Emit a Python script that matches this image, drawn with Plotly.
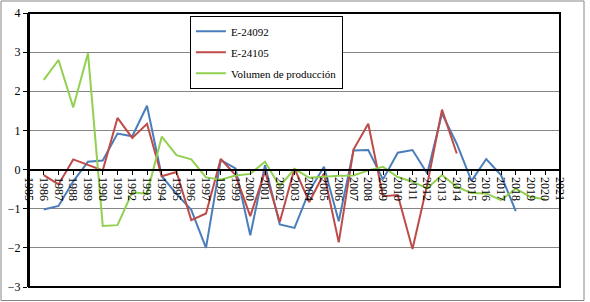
import plotly.graph_objects as go

# Category axis (years) and tick labels
tick_years = [1985, 1986, 1987, 1988, 1989, 1990, 1991, 1992, 1993, 1994, 1995, 1996,
              1997, 1998, 1999, 2000, 2001, 2002, 2003, 2004, 2005, 2006, 2007, 2008,
              2009, 2010, 2011, 2012, 2013, 2014, 2015, 2016, 2017, 2018, 2019, 2020, 2021]
tick_labels = [str(y) for y in tick_years]

years_blue = [1986, 1987, 1988, 1989, 1990, 1991, 1992, 1993, 1994, 1995, 1996, 1997,
              1998, 1999, 2000, 2001, 2002, 2003, 2004, 2005, 2006, 2007, 2008, 2009,
              2010, 2011, 2012, 2013, 2014, 2015, 2016, 2017, 2018]
e24092 = [-1.02, -0.93, -0.30, 0.20, 0.23, 0.92, 0.85, 1.63, -0.17, -0.62, -1.03, -2.00,
          0.24, 0.03, -1.68, 0.11, -1.40, -1.49, -0.55, 0.07, -1.32, 0.49, 0.50, -0.25,
          0.43, 0.50, -0.10, 1.43, 0.66, -0.29, 0.27, -0.14, -1.06]

years_red = [1986, 1987, 1988, 1989, 1990, 1991, 1992, 1993, 1994, 1995, 1996, 1997,
             1998, 1999, 2000, 2001, 2002, 2003, 2004, 2005, 2006, 2007, 2008, 2009,
             2010, 2011, 2012, 2013, 2014]
e24105 = [-0.14, -0.38, 0.26, 0.13, -0.02, 1.32, 0.81, 1.17, -0.17, -0.06, -1.29, -1.12,
          0.27, -0.14, -1.19, -0.05, -1.34, 0.03, -0.83, -0.10, -1.86, 0.51, 1.17, -0.68,
          -0.65, -2.03, -0.38, 1.53, 0.41]

years_green = [1986, 1987, 1988, 1989, 1990, 1991, 1992, 1993, 1994, 1995, 1996, 1997,
               1998, 1999, 2000, 2001, 2002, 2003, 2004, 2005, 2006, 2007, 2008, 2009,
               2010, 2011, 2012, 2013, 2014, 2015, 2016, 2017, 2018, 2019, 2020]
volumen = [2.29, 2.80, 1.59, 2.97, -1.44, -1.42, -0.58, -0.62, 0.84, 0.37, 0.26, -0.20,
           -0.26, -0.15, -0.11, 0.20, -0.43, 0.02, -0.21, -0.18, -0.16, -0.15, -0.02, 0.07,
           -0.19, -0.31, -0.48, -0.14, -0.44, -0.60, -0.61, -0.78, -0.49, -0.70, -0.76]

FONT = "Liberation Serif, Times New Roman, DejaVu Serif, serif"

fig = go.Figure()
fig.add_trace(go.Scatter(x=years_blue, y=e24092, mode="lines", name="E-24092",
                         legendgroup="a", line=dict(color="#4A7EBB", width=2)))
fig.add_trace(go.Scatter(x=years_red, y=e24105, mode="lines", name="E-24105",
                         legendgroup="b", line=dict(color="#BE4B48", width=2)))
fig.add_trace(go.Scatter(x=years_green, y=volumen, mode="lines", name="Volumen de producción",
                         legendgroup="c", line=dict(color="#92D050", width=2)))

fig.update_layout(
    width=590, height=302,
    margin=dict(l=29, r=30, t=13, b=15, autoexpand=False),
    paper_bgcolor="white", plot_bgcolor="white",
    font=dict(family=FONT, size=12, color="black"),
    showlegend=True,
    legend=dict(x=0.303, y=0.99, xanchor="left", yanchor="top",
                bgcolor="white", bordercolor="black", borderwidth=1,
                font=dict(family=FONT, size=11, color="black"),
                tracegroupgap=2),
    xaxis=dict(range=[1985, 2021], tickmode="array", tickvals=tick_years, ticktext=tick_labels,
               tickangle=90, anchor="free", position=3/7, showline=True, linecolor="black",
               linewidth=2, ticks="outside", ticklen=4, tickcolor="black", showgrid=False,
               zeroline=False, automargin=False,
               tickfont=dict(family=FONT, size=12, color="black")),
    yaxis=dict(range=[-3, 4], dtick=1, showgrid=True, gridcolor="#868686", gridwidth=1,
               showline=True, linecolor="black", linewidth=2, ticks="outside", ticklen=4,
               tickcolor="black", zeroline=False, automargin=False,
               tickfont=dict(family=FONT, size=12, color="black")),
    shapes=[
        dict(type="rect", xref="paper", yref="paper", x0=0, x1=1, y0=0, y1=1,
             line=dict(color="black", width=2), layer="above"),
        dict(type="rect", xref="paper", yref="paper", x0=-0.0527, x1=1.0452,
             y0=-0.0493, y1=1.0438, line=dict(color="#868686", width=1), layer="below"),
    ],
)

fig.write_html("out.html", config={"displayModeBar": False},
               post_script="document.body.style.margin='0';")
